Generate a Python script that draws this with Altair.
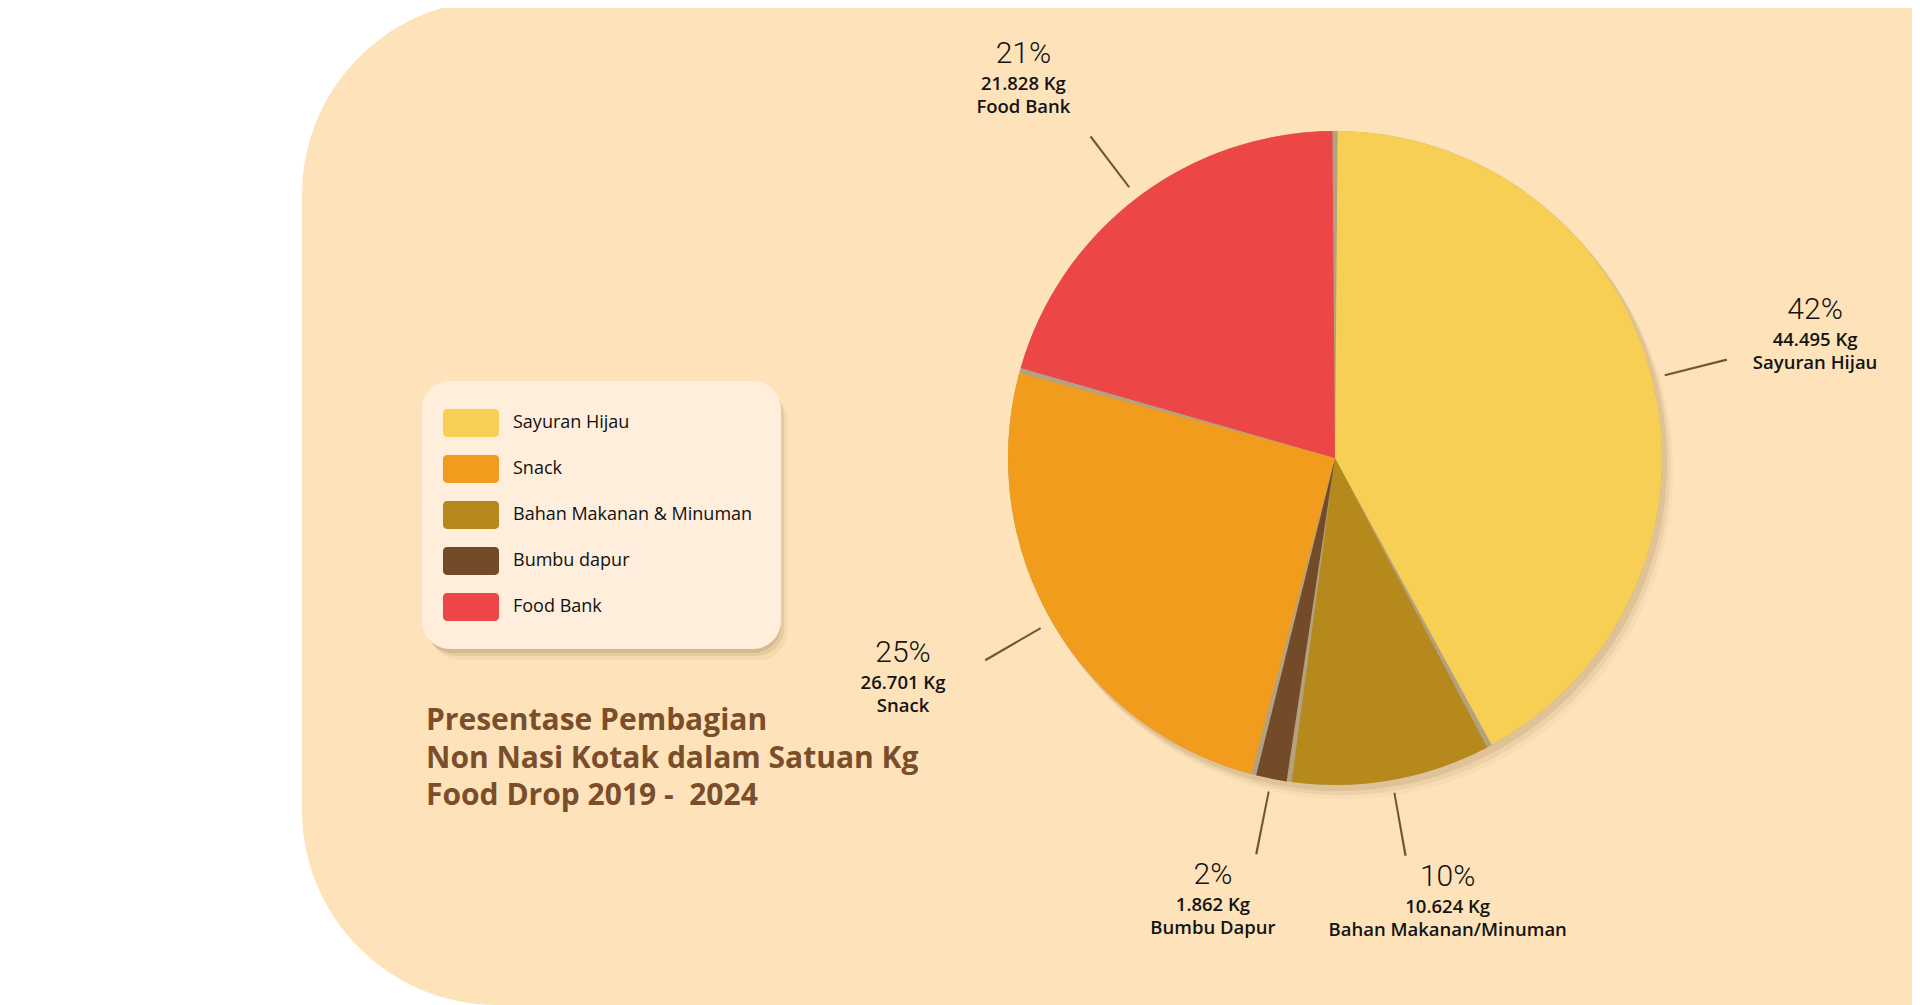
import math
import altair as alt
import pandas as pd

# ---------------- data ----------------
categories = ["Sayuran Hijau", "Bahan Makanan & Minuman", "Bumbu dapur", "Snack", "Food Bank"]
label_names = ["Sayuran Hijau", "Bahan Makanan/Minuman", "Bumbu Dapur", "Snack", "Food Bank"]
values_kg = [44495, 10624, 1862, 26701, 21828]
legend_order = ["Sayuran Hijau", "Snack", "Bahan Makanan & Minuman", "Bumbu dapur", "Food Bank"]
legend_colors = ["#F7CF55", "#F19C1C", "#B5891B", "#744B29", "#EC4647"]
title_lines = ["Presentase Pembagian", "Non Nasi Kotak dalam Satuan Kg", "Food Drop 2019 -\u00a0 2024"]

df = pd.DataFrame({
    "kategori": categories,
    "nama": label_names,
    "kg": values_kg,
    "urutan": list(range(len(categories))),
})
total = float(sum(values_kg))

# ---------------- layout ----------------
W, H = 1904, 997
CX, CY = 1327, 450
R = 327
LABEL_R = 462
TAU = 2 * math.pi

theta_scale = alt.Scale(domain=[0, total], range=[0, TAU])
one = alt.Data(values=[{"k": 1}])

# background panel
bg = alt.Chart(one).mark_rect(color="#FEE3BA", cornerRadius=195).encode(
    x=alt.value(294), x2=alt.value(2600), y=alt.value(-8), y2=alt.value(997)
)

# pie shadow
def pie_shadow(dx, dy, op):
    return alt.Chart(one).mark_arc(
        theta=0, theta2=TAU, outerRadius=R + 1, color="#8C6A3C", opacity=op
    ).encode(x=alt.value(CX + dx), y=alt.value(CY + dy))

shadows = [pie_shadow(10, 13, 0.05), pie_shadow(7, 9, 0.09), pie_shadow(4, 5, 0.15)]

# tan base visible through the slice gaps
pie_base = alt.Chart(one).mark_arc(
    theta=0, theta2=TAU, outerRadius=R, color="#B3A17F"
).encode(x=alt.value(CX), y=alt.value(CY))

# rounded-rectangle legend swatch (unit box 28 px; swatch about 56 x 28)
PATH = ("M-1.72,-1 H1.72 A0.28,0.28 0 0 1 2,-0.72 V0.72 A0.28,0.28 0 0 1 1.72,1 "
        "H-1.72 A0.28,0.28 0 0 1 -2,0.72 V-0.72 A0.28,0.28 0 0 1 -1.72,-1 Z")

slices = alt.Chart(df).mark_arc(outerRadius=R, padAngle=0.016).encode(
    theta=alt.Theta("kg:Q", stack=True, scale=theta_scale),
    color=alt.Color(
        "kategori:N",
        scale=alt.Scale(domain=legend_order, range=legend_colors),
        legend=alt.Legend(
            title=None, orient="none", legendX=414, legendY=373,
            fillColor="#FEEEDB", cornerRadius=28, padding=28,
            symbolType=PATH, symbolSize=784, symbolStrokeWidth=0,
            symbolOffset=7, symbolOpacity=1, labelOffset=28, rowPadding=18,
            labelFont="Open Sans", labelFontSize=18, labelFontWeight=500,
            labelColor="#111111", labelLimit=400,
        ),
    ),
    order=alt.Order("urutan:Q"),
    x=alt.value(CX), y=alt.value(CY),
)

base = (
    alt.Chart(df)
    .transform_joinaggregate(total="sum(kg)")
    .transform_window(cum="sum(kg)", sort=[alt.SortField("urutan")], frame=[None, 0])
    .transform_calculate(
        mid="datum.cum - datum.kg / 2",
        lo="datum.cum - datum.kg / 2 - datum.total * 0.00045",
        hi="datum.cum - datum.kg / 2 + datum.total * 0.00045",
        pct="round(datum.kg / datum.total * 100) + '%'",
        kgtxt="replace(format(datum.kg, ','), ',', '.') + ' Kg'",
        side="(datum.cum - datum.kg / 2) < datum.total / 2 ? 'right' : 'left'",
    )
)

leaders = base.mark_arc(innerRadius=340, outerRadius=404, color="#7B5231").encode(
    theta=alt.Theta("lo:Q", stack=False, scale=theta_scale),
    theta2="hi:Q",
    x=alt.value(CX), y=alt.value(CY),
)

def label_layer(field, dy, font, size, weight, side, dx):
    return base.transform_filter(f"datum.side == '{side}'").mark_text(
        radius=LABEL_R, dx=dx, dy=dy, align="center", baseline="alphabetic",
        font=font, fontSize=size, fontWeight=weight, color="#141414",
    ).encode(
        theta=alt.Theta("mid:Q", stack=False, scale=theta_scale),
        text=alt.Text(f"{field}:N"),
        x=alt.value(CX), y=alt.value(CY),
    )

labels = []
for side, dx in (("right", 32), ("left", -32)):
    labels.append(label_layer("pct", -27, "Roboto", 30, 300, side, dx))
    labels.append(label_layer("kgtxt", 0, "Open Sans", 18.5, 600, side, dx))
    labels.append(label_layer("nama", 23, "Open Sans", 18.5, 600, side, dx))

# legend drop shadow
def legend_shadow(dx, dy, op):
    return alt.Chart(one).mark_rect(color="#7A5A30", opacity=op, cornerRadius=28).encode(
        x=alt.value(414 + dx), x2=alt.value(770 + dx),
        y=alt.value(373 + dy), y2=alt.value(641 + dy),
    )

leg_shadows = [legend_shadow(9, 11, 0.07), legend_shadow(6, 7, 0.11), legend_shadow(3, 4, 0.15)]

title = alt.Chart(one).mark_text(
    text=title_lines, align="left", baseline="alphabetic",
    font="Open Sans", fontSize=30, fontWeight="bold",
    color="#7A4E2B", lineHeight=37.5,
).encode(x=alt.value(418), y=alt.value(722))

chart = alt.layer(
    bg, *shadows, pie_base, slices, leaders, *labels, *leg_shadows, title
).properties(
    width=W, height=H, padding=0,
    autosize=alt.AutoSizeParams(type="none"),
    background="white",
).configure_view(stroke=None)

chart.save("out.html", embed_options={"renderer": "svg", "actions": False})
